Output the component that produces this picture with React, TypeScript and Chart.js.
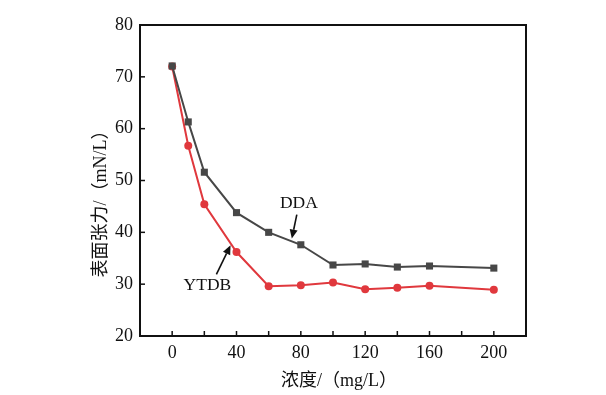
import React, { useEffect, useRef } from "react";
import { Chart, registerables } from "chart.js";

Chart.register(...registerables);

const concentrations = [0, 10, 20, 40, 60, 80, 100, 120, 140, 160, 200];
const ddaValues = [72.1, 61.3, 51.6, 43.8, 40.0, 37.6, 33.7, 33.9, 33.3, 33.5, 33.1];
const ytdbValues = [72.0, 56.7, 45.4, 36.2, 29.6, 29.8, 30.3, 29.0, 29.3, 29.7, 28.9];
const xTickValues = [0, 20, 40, 60, 80, 100, 120, 140, 160, 180, 200];
const xLabelValues = [0, 40, 80, 120, 160, 200];
const yTickValues = [20, 30, 40, 50, 60, 70, 80];

const xTitle = "浓度/（mg/L）";
const yTitle = "表面张力/（mN/L）";

// annotations in data units
const annotations = [
  { text: "DDA", at: [78.8, 45.6], from: [77.5, 43.4], to: [74.4, 38.8] },
  { text: "YTDB", at: [21.9, 29.8], from: [27.5, 31.9], to: [36.3, 37.5] },
];

const FONT = "'Liberation Serif', 'Noto Sans CJK SC', serif";

export default function App() {
  const ref = useRef<HTMLCanvasElement | null>(null);

  useEffect(() => {
    const canvas = ref.current;
    if (!canvas) return;

    const framePlugin = {
      id: "framePlugin",
      afterDraw(chart: any) {
        const { ctx, chartArea } = chart;
        const xs = chart.scales.x;
        const ys = chart.scales.y;
        ctx.save();
        // inward ticks
        ctx.strokeStyle = "#111";
        ctx.lineWidth = 1.5;
        xTickValues.forEach((v) => {
          const px = xs.getPixelForValue(v);
          ctx.beginPath();
          ctx.moveTo(px, chartArea.bottom);
          ctx.lineTo(px, chartArea.bottom - 5);
          ctx.stroke();
        });
        yTickValues.forEach((v) => {
          const py = ys.getPixelForValue(v);
          ctx.beginPath();
          ctx.moveTo(chartArea.left, py);
          ctx.lineTo(chartArea.left + 5, py);
          ctx.stroke();
        });
        // frame
        ctx.lineWidth = 2;
        ctx.strokeRect(
          chartArea.left,
          chartArea.top,
          chartArea.right - chartArea.left,
          chartArea.bottom - chartArea.top
        );
        // annotations
        ctx.fillStyle = "#111";
        ctx.font = `17.5px ${FONT}`;
        ctx.textAlign = "center";
        ctx.textBaseline = "middle";
        annotations.forEach((a) => {
          const tx = xs.getPixelForValue(a.at[0]);
          const ty = ys.getPixelForValue(a.at[1]);
          ctx.fillText(a.text, tx, ty);
          const x1 = xs.getPixelForValue(a.from[0]);
          const y1 = ys.getPixelForValue(a.from[1]);
          const x2 = xs.getPixelForValue(a.to[0]);
          const y2 = ys.getPixelForValue(a.to[1]);
          const ang = Math.atan2(y2 - y1, x2 - x1);
          const hl = 9;
          const hw = 4;
          const bx = x2 - hl * Math.cos(ang);
          const by = y2 - hl * Math.sin(ang);
          ctx.lineWidth = 1.6;
          ctx.beginPath();
          ctx.moveTo(x1, y1);
          ctx.lineTo(bx, by);
          ctx.stroke();
          ctx.beginPath();
          ctx.moveTo(x2, y2);
          ctx.lineTo(bx + hw * Math.sin(ang), by - hw * Math.cos(ang));
          ctx.lineTo(bx - hw * Math.sin(ang), by + hw * Math.cos(ang));
          ctx.closePath();
          ctx.fill();
        });
        // axis titles
        ctx.font = `18px ${FONT}`;
        ctx.fillText(xTitle, (chartArea.left + chartArea.right) / 2 + 6, 381);
        ctx.translate(101, (chartArea.top + chartArea.bottom) / 2 + 19);
        ctx.rotate(-Math.PI / 2);
        ctx.fillText(yTitle, 0, 0);
        ctx.restore();
      },
    };

    const chart = new Chart(canvas, {
      type: "line",
      data: {
        datasets: [
          {
            label: "DDA",
            data: concentrations.map((x, i) => ({ x, y: ddaValues[i] })),
            borderColor: "#474747",
            backgroundColor: "#474747",
            borderWidth: 2,
            pointStyle: "rect",
            pointRadius: 5,
            pointBorderWidth: 0,
            tension: 0,
          },
          {
            label: "YTDB",
            data: concentrations.map((x, i) => ({ x, y: ytdbValues[i] })),
            borderColor: "#e0383d",
            backgroundColor: "#e0383d",
            borderWidth: 2,
            pointStyle: "circle",
            pointRadius: 4,
            pointBorderWidth: 0,
            tension: 0,
          },
        ],
      },
      options: {
        responsive: false,
        animation: false,
        layout: { padding: { top: 25, right: 80, left: 0, bottom: 0 } },
        plugins: {
          legend: { display: false },
          tooltip: { enabled: false },
        },
        scales: {
          x: {
            type: "linear",
            min: -20,
            max: 220,
            afterFit: (s: any) => {
              s.height = 59;
            },
            afterBuildTicks: (s: any) => {
              s.ticks = xLabelValues.map((v) => ({ value: v }));
            },
            grid: { display: false, drawTicks: false },
            border: { display: false },
            ticks: {
              font: { family: FONT, size: 18 },
              color: "#111",
              padding: 6,
              maxRotation: 0,
              autoSkip: false,
            },
          },
          y: {
            type: "linear",
            min: 20,
            max: 80,
            afterFit: (s: any) => {
              s.width = 140;
            },
            afterBuildTicks: (s: any) => {
              s.ticks = yTickValues.map((v) => ({ value: v }));
            },
            grid: { display: false, drawTicks: false },
            border: { display: false },
            ticks: {
              font: { family: FONT, size: 18 },
              color: "#111",
              padding: 7,
              autoSkip: false,
            },
          },
        },
      },
      plugins: [framePlugin],
    });

    return () => chart.destroy();
  }, []);

  return (
    <div style={{ position: "fixed", left: 0, top: 0, width: 606, height: 395, background: "#fff" }}>
      <canvas ref={ref} width={606} height={395} style={{ display: "block" }} />
    </div>
  );
}
